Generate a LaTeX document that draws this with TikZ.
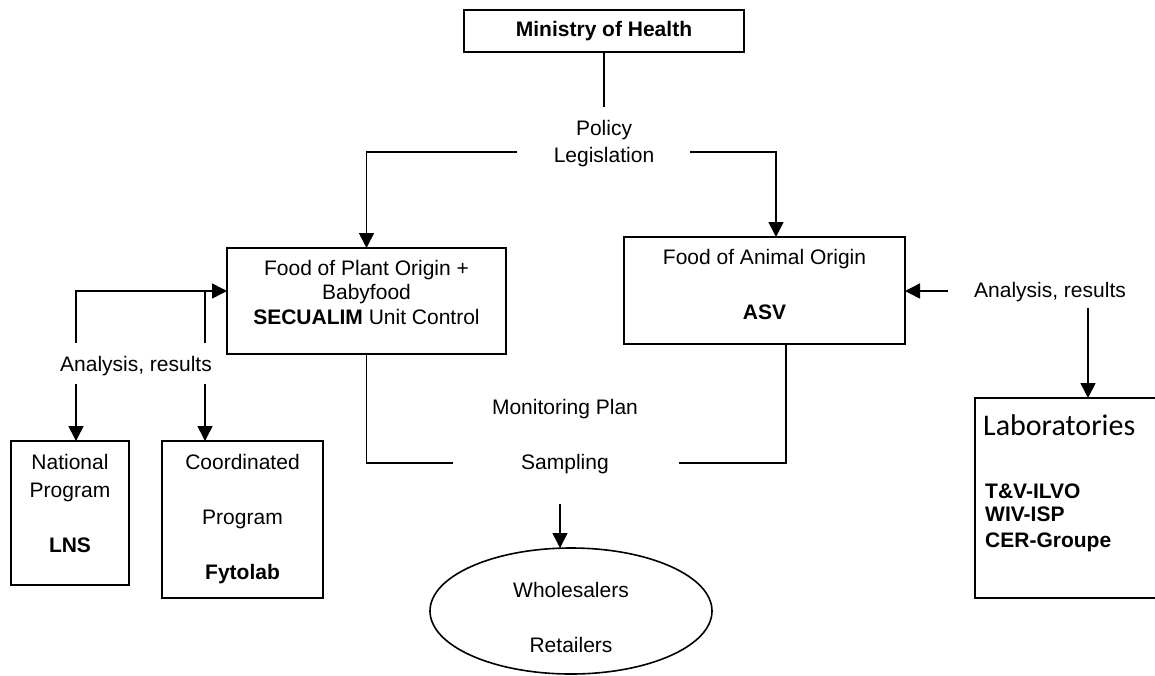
\documentclass[tikz,border=0pt]{standalone}
\usepackage{fontspec}
\setmainfont{Liberation Sans}
\newfontfamily\calibri{Carlito}
\usetikzlibrary{arrows.meta,shapes.geometric}
\begin{document}
\begin{tikzpicture}[x=1pt,y=-1pt,
  box/.style={draw, line width=1.6pt, inner sep=0pt, outer sep=0pt},
  lbl/.style={inner sep=0pt, anchor=base, font=\fontsize{21}{25}\selectfont},
  bl/.style={inner sep=0pt, anchor=base, font=\fontsize{21}{25}\selectfont\bfseries},
  con/.style={line width=1.6pt},
  arr/.style={con, -{Triangle[length=15pt,width=15pt]}}
]
\useasboundingbox (0,0) rectangle (1155,675);

% boxes
\node[box, minimum width=280pt, minimum height=42pt, font=\fontsize{21}{25}\selectfont\bfseries] (min) at (604,31) {Ministry of Health};
\node[box, minimum width=279pt, minimum height=106pt] (plant) at (366.5,301) {};
\node[box, minimum width=281pt, minimum height=107pt] (animal) at (764.5,290.5) {};
\node[box, minimum width=118pt, minimum height=144pt] (nat) at (70,513) {};
\node[box, minimum width=161pt, minimum height=157pt] (coord) at (242.5,519.5) {};
\node[box, minimum width=185pt, minimum height=200pt] (lab) at (1067.5,498) {};
\node[box, ellipse, minimum width=282pt, minimum height=126pt] (ell) at (571,611) {};

% labels
\node[lbl] (pol1) at (604,135) {Policy};
\node[lbl] (pol2) at (604,162) {Legislation};
\node[lbl] (pl1) at (366.5,275) {Food of Plant Origin +};
\node[lbl] (pl2) at (366.5,299) {Babyfood};
\node[lbl] (pl3) at (366.5,324) {\textbf{SECUALIM} Unit Control};
\node[lbl] (an1) at (764.5,264) {Food of Animal Origin};
\node[bl] (an2) at (764.5,319) {ASV};
\node[lbl] (anL) at (136,371) {Analysis, results};
\node[lbl] (anR) at (1050,297) {Analysis, results};
\node[lbl] (na1) at (70,469) {National};
\node[lbl] (na2) at (70,497) {Program};
\node[bl] (na3) at (70,552) {LNS};
\node[lbl] (co1) at (242.5,469) {Coordinated};
\node[lbl] (co2) at (242.5,524) {Program};
\node[bl] (co3) at (242.5,579) {Fytolab};
\node[lbl] (mp) at (565,414) {Monitoring Plan};
\node[lbl] (sa) at (565,469) {Sampling};
\node[lbl] (wh) at (571,597) {Wholesalers};
\node[lbl] (re) at (571,652) {Retailers};
\node[inner sep=0pt, anchor=base west, font=\fontsize{30}{34}\calibri] (labt) at (983,435) {Laboratories};
\node[bl, anchor=base west] (lb1) at (985,498) {T\&V-ILVO};
\node[bl, anchor=base west] (lb2) at (985,521) {WIV-ISP};
\node[bl, anchor=base west] (lb3) at (985,547) {CER-Groupe};

% connector end points
\coordinate (polT) at (604,107);
\coordinate (lgL) at (517,152);
\coordinate (lgR) at (690,152);
\coordinate (aL1) at (76,343);
\coordinate (aL2) at (205,343);
\coordinate (aJ) at (205,291);
\coordinate (aL3) at (76,384);
\coordinate (aL4) at (205,384);
\coordinate (sampL) at (453,463);
\coordinate (sampR) at (679,463);
\coordinate (sampB) at (560,504);
\coordinate (aR) at (948,291);
\coordinate (aRd) at (1088,308);

% connectors
\draw[con] (min.south) -- (polT);
\draw[arr] (lgL) -| (plant.north);
\draw[arr] (lgR) -| ([xshift=11.5pt]animal.north);
\draw[arr] (aL1) |- ([yshift=10pt]plant.west);
\draw[con] (aL2) -- (aJ);
\draw[arr] (aL3) -- (aL3 |- nat.north);
\draw[arr] (aL4) -- (aL4 |- coord.north);
\draw[con] (plant.south) |- (sampL);
\draw[con] (sampR) -| ([xshift=21.5pt]animal.south);
\draw[arr] (sampB) -- (sampB |- ell.north);
\draw[arr] (aR) -- (aR -| animal.east);
\draw[arr] (aRd) -- (aRd |- lab.north);
\end{tikzpicture}
\end{document}
